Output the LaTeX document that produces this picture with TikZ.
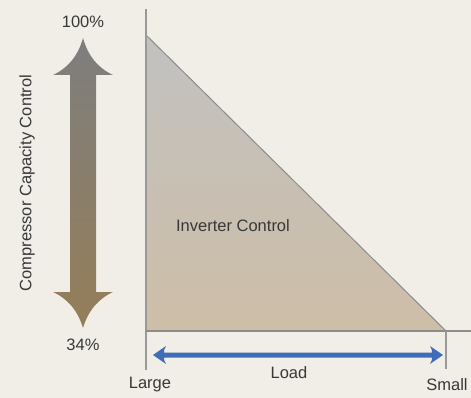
\documentclass[tikz,border=0pt]{standalone}
\usepackage{fontspec}
\setmainfont{Liberation Sans}
\begin{document}
\begin{tikzpicture}[x=1pt,y=-1pt,
  lbl/.style={font=\fontsize{16.5}{19}\selectfont, text=black!78, inner sep=0pt},
  axis/.style={draw=black!40, line width=1.6pt}]
\definecolor{bg}{HTML}{F1EEE8}
\definecolor{tritop}{HTML}{C2C1C0}
\definecolor{tribot}{HTML}{CDBEA7}
\definecolor{arrtop}{HTML}{7E7E7E}
\definecolor{arrbot}{HTML}{957E58}
\definecolor{loadblue}{HTML}{3F6DB8}
\fill[bg] (0,0) rectangle (471,398);
\useasboundingbox (0,0) rectangle (471,398);
% triangle
\shade[top color=tritop, bottom color=tribot] (146,35) -- (446,331) -- (146,331) -- cycle;
\draw[black!45, line width=1pt] (146,35) -- (446,331);
% axes
\coordinate (o) at (146,331);
\coordinate (ytop) at (146,9);
\coordinate (ybot) at (146,370);
\coordinate (xend) at (471,331);
\coordinate (s) at (446,331);
\coordinate (sb) at (446,369);
\draw[axis] (ytop) -- (ybot);
\draw[axis, draw=black!45] (o) -- (xend);
\draw[axis] (s) -- (sb);
% big arrow
\shade[top color=arrtop, bottom color=arrbot]
  (83,38) .. controls (88,56) and (98,68) .. (113,75) -- (96,75) -- (96,292) -- (113,292)
  .. controls (98,299) and (88,311) .. (83,328)
  .. controls (78,311) and (68,299) .. (53,292) -- (70,292) -- (70,75) -- (53,75)
  .. controls (68,68) and (78,56) .. (83,38) -- cycle;
% load arrow
\coordinate (la) at (153,355);
\coordinate (lb) at (443,355);
\fill[loadblue] (153,355) -- (166,346) .. controls (164,350) .. (164,352.5) -- (432,352.5) .. controls (432,350) .. (430,346) -- (443,355) -- (430,364) .. controls (432,360) .. (432,357.5) -- (164,357.5) .. controls (164,360) .. (166,364) -- cycle;
% labels
\node[lbl] (p100) at (83,22) {100\%};
\node[lbl] (p34) at (83,345) {34\%};
\node[lbl] (large) at (150,385) {Large};
\node[lbl] (small) at (447,385) {Small};
\node[lbl] (load) at (289,373) {Load};
\node[lbl] (inv) at (233,226) {Inverter Control};
\node[lbl, rotate=90] (ccc) at (27,183) {Compressor Capacity Control};
\end{tikzpicture}
\end{document}
